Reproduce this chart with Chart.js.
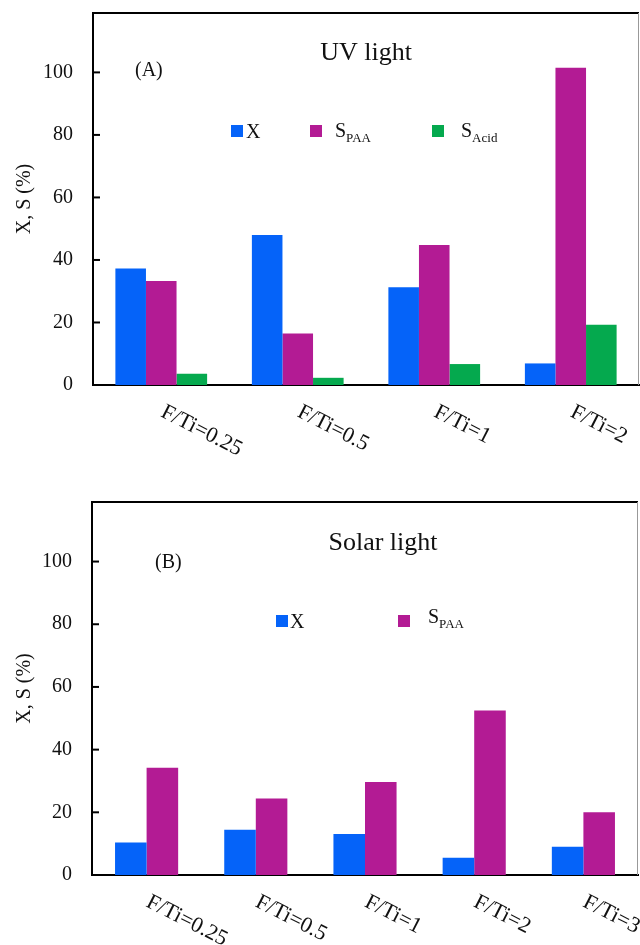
<!DOCTYPE html>
<html>
<head>
<meta charset="utf-8">
<script src="https://cdn.jsdelivr.net/npm/chart.js@4.4.1/dist/chart.umd.min.js"></script>
<style>
  html, body { margin: 0; padding: 0; background: #fff; overflow: hidden; }
  canvas { position: absolute; left: 0; }
  #uvChart { top: 0; }
  #solarChart { top: 470px; }
</style>
</head>
<body>
<canvas id="uvChart" width="640" height="470"></canvas>
<canvas id="solarChart" width="640" height="475"></canvas>
<script>
// ── Data ──
const uvCategories = ['F/Ti=0.25', 'F/Ti=0.5', 'F/Ti=1', 'F/Ti=2'];
const uvX = [37.3, 48.0, 31.3, 6.9];
const uvSPAA = [33.3, 16.5, 44.8, 101.5];
const uvSAcid = [3.6, 2.3, 6.7, 19.3];

const solarCategories = ['F/Ti=0.25', 'F/Ti=0.5', 'F/Ti=1', 'F/Ti=2', 'F/Ti=3'];
const solarX = [10.4, 14.4, 13.1, 5.5, 9.0];
const solarSPAA = [34.2, 24.4, 29.7, 52.5, 20.0];

const yTicks = [0, 20, 40, 60, 80, 100];
const seriesMain = ['X', 'S', 'S'];
const seriesSub = ['', 'PAA', 'Acid'];
const seriesColors = ['#0563F9', '#B31B94', '#05A94E'];

const SERIF = "'Liberation Serif', 'DejaVu Serif', serif";

// draws frame, inward ticks, titles, legend with subscripts, rotated x labels
const decoPlugin = {
    id: 'deco',
    afterDraw(chart, args, opts) {
        const ctx = chart.ctx;
        const area = chart.chartArea;
        const yScale = chart.scales.y;
        const xScale = chart.scales.x;
        ctx.save();

        // top + right frame
        ctx.strokeStyle = '#000';
        ctx.lineWidth = 2;
        ctx.beginPath();
        ctx.moveTo(area.left - 1, area.top);
        ctx.lineTo(area.right, area.top);
        ctx.stroke();
        ctx.strokeStyle = '#999';
        ctx.lineWidth = 1;
        ctx.beginPath();
        ctx.moveTo(area.right - 0.5, area.top);
        ctx.lineTo(area.right - 0.5, area.bottom);
        ctx.stroke();

        // inward y ticks
        ctx.strokeStyle = '#000';
        ctx.lineWidth = 2;
        yTicks.forEach(v => {
            const y = yScale.getPixelForValue(v);
            ctx.beginPath();
            ctx.moveTo(area.left, y);
            ctx.lineTo(area.left + 7, y);
            ctx.stroke();
        });

        // title + panel letter
        ctx.fillStyle = '#111';
        ctx.textBaseline = 'alphabetic';
        ctx.textAlign = 'center';
        ctx.font = `26px ${SERIF}`;
        ctx.fillText(opts.title, opts.titleX, opts.titleY);
        ctx.textAlign = 'left';
        ctx.font = `20px ${SERIF}`;
        ctx.fillText(opts.panel, opts.panelX, opts.panelY);

        // legend
        chart.data.datasets.forEach((ds, i) => {
            ctx.fillStyle = ds.backgroundColor;
            ctx.fillRect(opts.squareX[i], opts.legendY - 12, 12, 12);
            ctx.fillStyle = '#111';
            ctx.font = `20px ${SERIF}`;
            const tx = opts.textX[i];
            const base = opts.legendY + (seriesSub[i] ? opts.sBaseShift : 1);
            ctx.fillText(seriesMain[i], tx, base);
            if (seriesSub[i]) {
                const w = ctx.measureText(seriesMain[i]).width;
                ctx.font = `13px ${SERIF}`;
                ctx.fillText(seriesSub[i], tx + w, base + 5);
            }
        });

        // rotated category labels
        ctx.font = `22px ${SERIF}`;
        ctx.fillStyle = '#111';
        ctx.textBaseline = 'top';
        chart.data.labels.forEach((lab, i) => {
            const x = xScale.getPixelForTick(i);
            ctx.save();
            ctx.translate(x + 6, area.bottom + 16);
            ctx.rotate(27 * Math.PI / 180);
            ctx.fillText(lab, 0, 0);
            ctx.restore();
        });

        ctx.restore();
    }
};

function makeChart(id, labels, seriesData, catPct, xAxisHeight, padTop, padRight, yAxisWidth, deco) {
    const datasets = seriesData.map((d, i) => ({
        label: seriesMain[i] + seriesSub[i],
        data: d,
        backgroundColor: seriesColors[i],
        borderWidth: 0,
        barPercentage: 1.0,
        categoryPercentage: catPct
    }));
    return new Chart(document.getElementById(id), {
        type: 'bar',
        data: { labels: labels, datasets: datasets },
        options: {
            responsive: false,
            animation: false,
            layout: { padding: { top: padTop, right: padRight, left: 0, bottom: 0 } },
            plugins: {
                legend: { display: false },
                tooltip: { enabled: false },
                deco: deco
            },
            scales: {
                x: {
                    grid: { display: false, drawTicks: false },
                    border: { display: true, color: '#000', width: 2 },
                    ticks: { display: false },
                    afterFit: (s) => { s.height = xAxisHeight; }
                },
                y: {
                    min: 0,
                    max: 119,
                    afterBuildTicks: (s) => { s.ticks = yTicks.map(v => ({ value: v })); },
                    grid: { display: false, drawTicks: false },
                    border: { display: true, color: '#000', width: 2 },
                    ticks: {
                        padding: 20,
                        color: '#111',
                        font: { family: SERIF, size: 20 }
                    },
                    title: {
                        display: true,
                        text: 'X, S (%)',
                        color: '#111',
                        font: { family: SERIF, size: 20 },
                        padding: { top: 13, bottom: 0 }
                    },
                    afterFit: (s) => {
                        s.width = yAxisWidth;
                        s.paddingTop = 0;
                        s.paddingBottom = 0;
                    }
                }
            }
        },
        plugins: [decoPlugin]
    });
}

makeChart('uvChart', uvCategories, [uvX, uvSPAA, uvSAcid], 0.672, 85, 13, 1, 93, {
    title: 'UV light', titleX: 366, titleY: 60,
    panel: '(A)', panelX: 135, panelY: 76,
    legendY: 137, sBaseShift: 0,
    squareX: [231, 310, 432], textX: [246, 335, 461]
});

makeChart('solarChart', solarCategories, [solarX, solarSPAA], 0.578, 70, 32, 2, 92, {
    title: 'Solar light', titleX: 383, titleY: 80,
    panel: '(B)', panelX: 155, panelY: 98,
    legendY: 157, sBaseShift: -4,
    squareX: [276, 398], textX: [290, 428]
});
</script>
</body>
</html>
